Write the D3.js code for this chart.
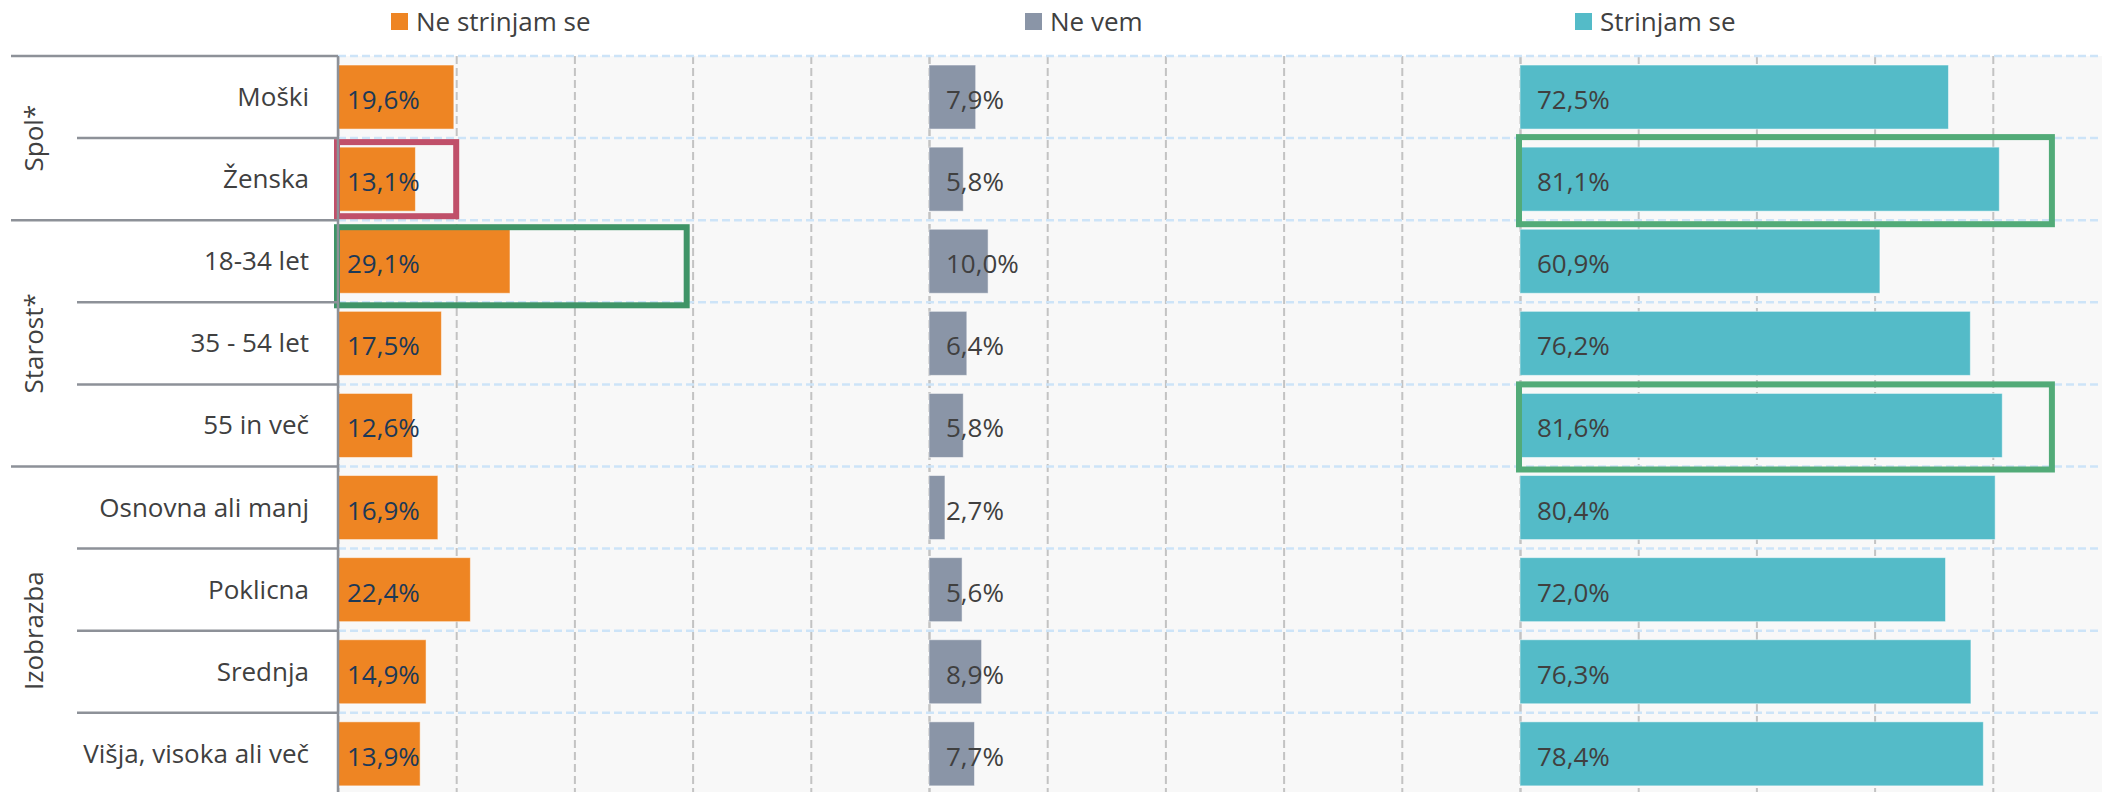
<!DOCTYPE html>
<html>
<head>
<meta charset="utf-8">
<script src="https://cdn.jsdelivr.net/npm/d3@7/dist/d3.min.js"></script>
<style>
  body { margin: 0; background: #fff; }
  svg text { font-family: "Open Sans", sans-serif; }
</style>
</head>
<body>
<script>
const categories = ['Moški', 'Ženska', '18-34 let', '35 - 54 let', '55 in več',
  'Osnovna ali manj', 'Poklicna', 'Srednja', 'Višja, visoka ali več'];
const groups = ['Spol*', 'Starost*', 'Izobrazba'];
const groupSizes = [2, 3, 4];
const seriesNames = ['Ne strinjam se', 'Ne vem', 'Strinjam se'];
const disagree = [19.6, 13.1, 29.1, 17.5, 12.6, 16.9, 22.4, 14.9, 13.9];
const dontKnow = [7.9, 5.8, 10.0, 6.4, 5.8, 2.7, 5.6, 8.9, 7.7];
const agree = [72.5, 81.1, 60.9, 76.2, 81.6, 80.4, 72.0, 76.3, 78.4];
const gridTicks = [0, 20, 40, 60, 80, 100];

// boxed cells: row, panel, and how far the box reaches on the 0-100 scale
const boxRows = ['Ženska', '18-34 let', 'Ženska', '55 in več'];
const boxSeries = ['Ne strinjam se', 'Ne strinjam se', 'Strinjam se', 'Strinjam se'];
const boxTo = [20, 59, 90, 90];

const W = 2102, H = 792;
const plotTop = 56, rowH = 82.1, plotLeft = 338, panelW = 591;
const colors = ['#ee8523', '#8a95a7', '#54bbc8'];
const labelColors = ['#1c3957', '#404040', '#404040'];
const labelPad = [9, 17, 17];
const legendX = [391, 1025, 1575];
const boxColors = ['#c0506a', '#3f9467', '#52ab78', '#52ab78'];
const boxInset = [[4, -4], [7, 3], [-1, 4], [0, 3]];
const lineColor = '#8d9198';

const values = [disagree, dontKnow, agree];

const svg = d3.select('body').append('svg')
  .attr('width', W)
  .attr('height', H)
  .attr('viewBox', [0, 0, W, H]);

const panel = d3.scaleBand()
  .domain(seriesNames)
  .range([plotLeft, plotLeft + panelW * seriesNames.length]);

const x = d3.scaleLinear()
  .domain([0, 100])
  .range([0, panelW]);

const y = d3.scaleBand()
  .domain(categories)
  .range([plotTop, plotTop + rowH * categories.length]);

// plot background
svg.append('rect')
  .attr('x', plotLeft)
  .attr('y', plotTop)
  .attr('width', W - plotLeft)
  .attr('height', H - plotTop)
  .attr('fill', '#f8f8f8');

// vertical dashed grid, one axis per panel
seriesNames.forEach(s => {
  const g = svg.append('g')
    .attr('transform', `translate(${panel(s)},${plotTop})`)
    .call(d3.axisTop(x).tickValues(gridTicks).tickSize(-(H - plotTop)).tickFormat(''));
  g.select('.domain').remove();
  g.selectAll('.tick line')
    .attr('stroke', '#c3c3c3')
    .attr('stroke-width', 2)
    .attr('stroke-dasharray', '8,4');
});

// horizontal dashed grid at row edges
svg.append('g')
  .selectAll('line')
  .data(categories)
  .join('line')
    .attr('x1', plotLeft)
    .attr('x2', W)
    .attr('y1', d => y(d))
    .attr('y2', d => y(d))
    .attr('stroke', '#cde4f8')
    .attr('stroke-width', 2.5)
    .attr('stroke-dasharray', '8,4');

// bars and value labels
seriesNames.forEach((s, si) => {
  const g = svg.append('g');
  g.selectAll('rect')
    .data(categories)
    .join('rect')
      .attr('x', panel(s))
      .attr('y', d => y(d) + y.bandwidth() * 0.11)
      .attr('width', (d, i) => x(values[si][i]))
      .attr('height', y.bandwidth() * 0.78)
      .attr('fill', colors[si])
      .attr('stroke', '#fff')
      .attr('stroke-opacity', 0.5)
      .attr('stroke-width', 1);

  g.selectAll('text')
    .data(categories)
    .join('text')
      .attr('x', panel(s) + labelPad[si])
      .attr('y', d => y(d) + y.bandwidth() / 2 + 12)
      .attr('fill', labelColors[si])
      .style('font-size', '26px')
      .text((d, i) => d3.format('.1f')(values[si][i]).replace('.', ',') + '%');
});

// highlight boxes
svg.append('g')
  .selectAll('rect')
  .data(boxRows)
  .join('rect')
    .attr('x', (d, i) => panel(boxSeries[i]) - 1)
    .attr('y', (d, i) => y(d) + boxInset[i][0])
    .attr('width', (d, i) => x(boxTo[i]) + 1)
    .attr('height', (d, i) => y.bandwidth() - boxInset[i][0] + boxInset[i][1])
    .attr('fill', 'none')
    .attr('stroke', (d, i) => boxColors[i])
    .attr('stroke-width', 6);

// category labels
svg.append('g')
  .selectAll('text')
  .data(categories)
  .join('text')
    .attr('x', 309)
    .attr('y', d => y(d) + y.bandwidth() / 2 + 9)
    .attr('text-anchor', 'end')
    .attr('fill', '#404040')
    .style('font-size', '26px')
    .text(d => d);

// separators in the label column
const groupStarts = Array.from(d3.cumsum([0, ...groupSizes])).slice(0, groups.length);
svg.append('g')
  .selectAll('line')
  .data(categories)
  .join('line')
    .attr('x1', (d, i) => groupStarts.includes(i) ? 11 : 77)
    .attr('x2', plotLeft)
    .attr('y1', d => y(d))
    .attr('y2', d => y(d))
    .attr('stroke', lineColor)
    .attr('stroke-width', 2.5);

// group labels
svg.append('g')
  .selectAll('text')
  .data(groups)
  .join('text')
    .attr('transform', (d, i) => {
      const first = categories[groupStarts[i]];
      const cy = y(first) + rowH * groupSizes[i] / 2;
      return `translate(43,${cy}) rotate(-90)`;
    })
    .attr('text-anchor', 'middle')
    .attr('fill', '#404040')
    .style('font-size', '26px')
    .text(d => d);

// axis line
svg.append('line')
  .attr('x1', plotLeft)
  .attr('x2', plotLeft)
  .attr('y1', plotTop)
  .attr('y2', H)
  .attr('stroke', lineColor)
  .attr('stroke-width', 2.5);

// legend
const legend = svg.append('g')
  .selectAll('g')
  .data(seriesNames)
  .join('g')
    .attr('transform', (d, i) => `translate(${legendX[i]},13)`);

legend.append('rect')
  .attr('width', 17)
  .attr('height', 17)
  .attr('fill', (d, i) => colors[i]);

legend.append('text')
  .attr('x', 25)
  .attr('y', 18)
  .attr('fill', '#404040')
  .style('font-size', '26px')
  .text(d => d);
</script>
</body>
</html>
